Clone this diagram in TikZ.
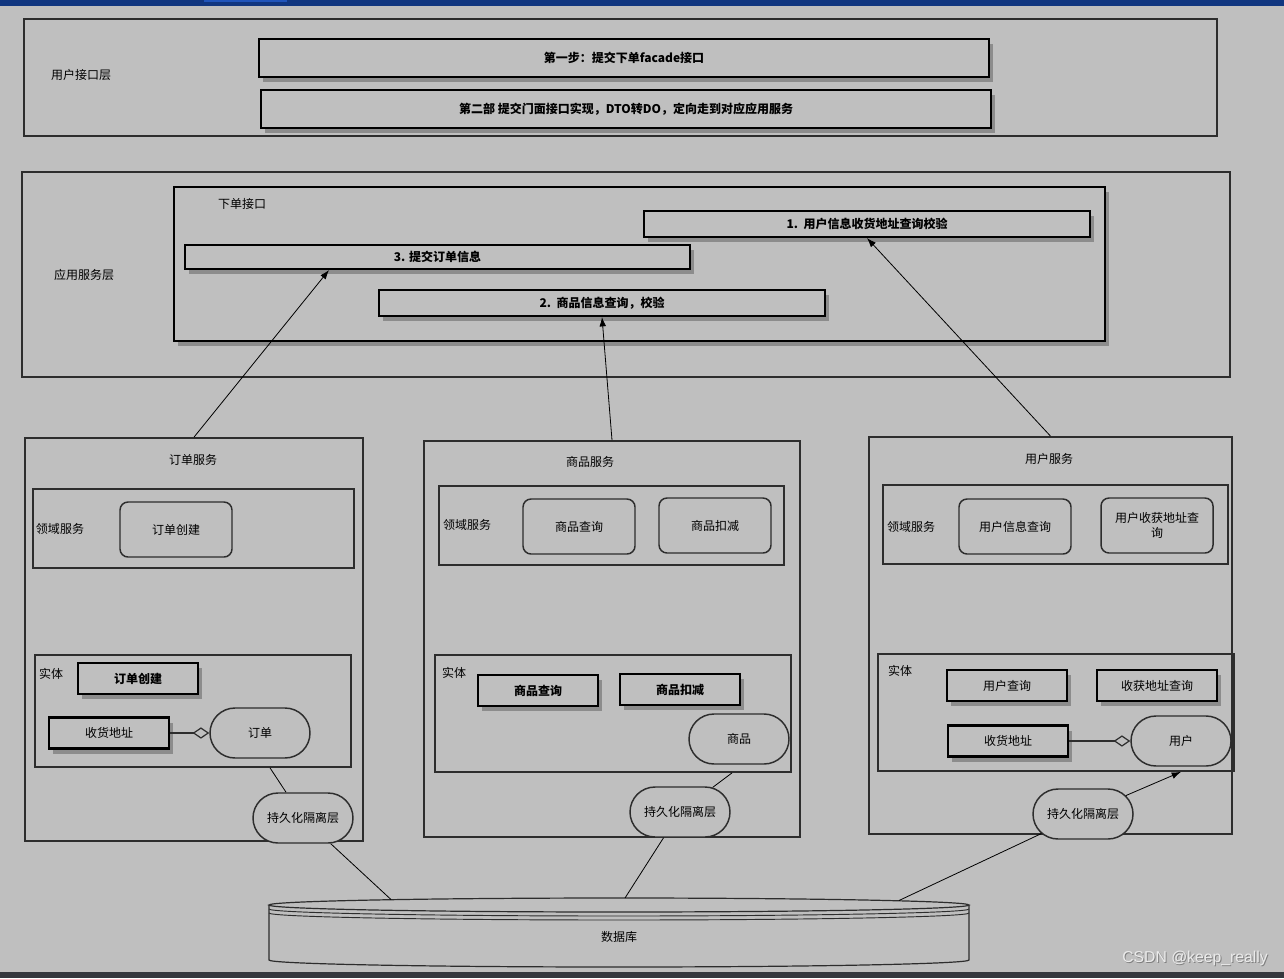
\documentclass[tikz,border=0pt]{standalone}
\usepackage{fontspec}
\setmainfont{Noto Sans CJK SC}
\newfontfamily\wmfont{Liberation Sans}
\usetikzlibrary{arrows.meta,shapes.misc,shadows}
\definecolor{bg}{RGB}{191,191,191}
\definecolor{edge}{RGB}{45,45,45}
\definecolor{shd}{RGB}{140,140,140}
\definecolor{bar}{RGB}{17,54,128}
\definecolor{tab}{RGB}{32,84,186}
\definecolor{foot}{RGB}{52,55,61}

\begin{document}
\begin{tikzpicture}[x=0.75pt,y=-0.75pt,font=\fontsize{9}{11}\selectfont]
  \tikzstyle{lay}=[draw=edge,line width=1.3pt,inner sep=0]
  \tikzstyle{stp}=[draw=black,line width=1.6pt,fill=bg,inner sep=0,font=\fontsize{9}{11}\selectfont\bfseries,drop shadow={shadow xshift=3pt,shadow yshift=-3.75pt,fill=shd,opacity=1}]
  \tikzstyle{ebx}=[stp,font=\fontsize{9}{11}\selectfont,minimum width=90pt,minimum height=23.25pt]
  \tikzstyle{ebb}=[ebx,font=\fontsize{9}{11}\selectfont\bfseries]
  \tikzstyle{rnd}=[draw=edge,line width=1.1pt,rounded corners=6pt,minimum width=84pt,minimum height=41.25pt,align=center]
  \tikzstyle{pill}=[rounded rectangle,draw=edge,line width=1.1pt,fill=bg,minimum width=75pt,minimum height=37.5pt,inner sep=0]
  \tikzstyle{txt}=[inner sep=1pt]
  \tikzstyle{lnk}=[line width=0.6pt]
  \tikzstyle{arr}=[-{Latex[length=7pt,width=5pt]},line width=0.6pt]
  \tikzstyle{agg}=[-{Diamond[open,length=12.5pt,width=8.5pt]},line width=0.9pt,draw=edge]

  % page
  \useasboundingbox (0,0) rectangle (1284,978);
  \fill[bg] (0,0) rectangle (1284,978);
  \fill[bar] (0,0) rectangle (1284,6);
  \fill[tab] (204,0) rectangle (287,2);
  \fill[foot] (0,972) rectangle (1284,978);

  % user interface layer
  \node[lay,minimum width=894.75pt,minimum height=87.75pt] (uil) at (620.5,77.5) {};
  \node[txt] (uilt) at (81,75) {用户接口层};
  \node[stp,minimum width=547.5pt,minimum height=28.5pt] (f1) at (624,58) {第一步：提交下单facade接口};
  \node[stp,minimum width=547.5pt,minimum height=28.5pt] (f2) at (626,109) {第二部 提交门面接口实现，DTO转DO，定向走到对应应用服务};

  % application service layer
  \node[lay,minimum width=906pt,minimum height=153.75pt] (app) at (626,274.5) {};
  \node[txt] (appt) at (84,275) {应用服务层};
  \node[stp,minimum width=698.25pt,minimum height=115.5pt] (api) at (639.5,264) {};
  \node[txt] (apit) at (242,204) {下单接口};
  \node[stp,minimum width=334.5pt,minimum height=19.5pt] (s1) at (867,224) {1.~~用户信息收货地址查询校验};
  \node[stp,minimum width=378.75pt,minimum height=18pt] (s3) at (437.5,257) {3. 提交订单信息};
  \node[stp,minimum width=334.5pt,minimum height=19.5pt] (s2) at (602,303) {2.~~商品信息查询，校验};

  % order service
  \node[lay,minimum width=253.5pt,minimum height=302.25pt] (os) at (194,639.5) {};
  \node[txt] (ost) at (193,460) {订单服务};
  \node[lay,minimum width=240.75pt,minimum height=59.25pt] (od) at (193.5,528.5) {};
  \node[txt] (odt) at (60,529) {领域服务};
  \node[rnd] (oc) at (176,529.5) {订单创建};
  \node[lay,minimum width=237pt,minimum height=84pt] (oe) at (193,711) {};
  \node[txt] (oet) at (51,674) {实体};
  \node[ebb] (ob) at (138,678.5) {订单创建};
  \node[ebx] (oa) at (109,733) {收货地址};
  \node[pill] (oo) at (260,733) {订单};
  \node[pill] (op) at (303,818) {持久化隔离层};

  % goods service
  \node[lay,minimum width=282pt,minimum height=297pt] (gs) at (612,639) {};
  \node[txt] (gst) at (590,462) {商品服务};
  \node[lay,minimum width=258.75pt,minimum height=59.25pt] (gd) at (611.5,525.5) {};
  \node[txt] (gdt) at (467,525) {领域服务};
  \node[rnd] (gq) at (579,526.5) {商品查询};
  \node[rnd] (gk) at (715,525.5) {商品扣减};
  \node[lay,minimum width=267pt,minimum height=87.75pt] (ge) at (613,713.5) {};
  \node[txt] (get) at (454,673) {实体};
  \node[ebb] (gbq) at (538,690.5) {商品查询};
  \node[ebb] (gbk) at (680,689.5) {商品扣减};
  \node[pill] (gg) at (739,739) {商品};
  \node[pill] (gp) at (680,812) {持久化隔离层};

  % user service
  \node[lay,minimum width=272.25pt,minimum height=297.75pt] (us) at (1050.5,635.5) {};
  \node[txt] (ust) at (1049,459) {用户服务};
  \node[lay,minimum width=258.75pt,minimum height=59.25pt] (ud) at (1055.5,524.5) {};
  \node[txt] (udt) at (911,527) {领域服务};
  \node[rnd] (ui1) at (1015,526.5) {用户信息查询};
  \node[rnd] (ui2) at (1157,525.5) {用户收获地址查\\询};
  \node[lay,minimum width=267pt,minimum height=87.75pt] (ue) at (1056,712.5) {};
  \node[txt] (uet) at (900,671) {实体};
  \node[ebx] (uq) at (1007,685.5) {用户查询};
  \node[ebx] (ua2) at (1157,685.5) {收获地址查询};
  \node[ebx] (ua) at (1008,741) {收货地址};
  \node[pill] (uu) at (1181,741) {用户};
  \node[pill] (up) at (1083,814) {持久化隔离层};

  % database
  \draw[draw=edge,line width=0.9pt] (269,905) -- (269,960) arc[start angle=180,end angle=360,x radius=262.5pt,y radius=5.25pt] -- (969,905);
  \draw[draw=edge,line width=0.9pt] (619,905) ellipse [x radius=262.5pt,y radius=5.25pt];
  \draw[draw=edge,line width=0.7pt] (269,909) arc[start angle=180,end angle=360,x radius=262.5pt,y radius=5.25pt];
  \draw[draw=edge,line width=0.7pt] (269,913) arc[start angle=180,end angle=360,x radius=262.5pt,y radius=5.25pt];
  \node[txt] (db) at (619,937) {数据库};
  \coordinate (db1) at (391,899.5);
  \coordinate (db2) at (625,898);
  \coordinate (db3) at (899,900.5);

  % links
  \draw[agg] (oa.east) -- (oa.east -| oo.west);
  \draw[agg] (ua.east) -- (ua.east -| uu.west);
  \draw[lnk] ([xshift=57.75pt]oe.south) -- (op);
  \draw[lnk] ([xshift=89.25pt]ge.south) -- (gp);
  \draw[arr] (up) -- (ue.south -| uu.south);
  \draw[lnk] (op) -- (db1);
  \draw[lnk] (gp) -- (db2);
  \draw[lnk] (up) -- (db3);
  \draw[arr] (os.north) -- ([xshift=-81.4pt]s3.south);
  \draw[arr] (gs.north) -- (s2.south);
  \draw[arr] (us.north) -- (s1.south);

  % watermark
  \node[txt,font=\wmfont\fontsize{11.8}{13}\selectfont,text=black!50] (wms) at (1196,959) {CSDN @keep\_really};
  \node[txt,font=\wmfont\fontsize{11.8}{13}\selectfont,text=white!92!black] (wm) at (1195,958) {CSDN @keep\_really};
\end{tikzpicture}
\end{document}
